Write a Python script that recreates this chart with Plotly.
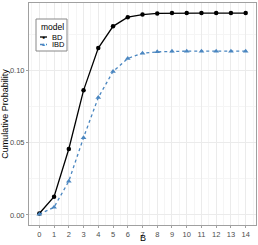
import plotly.graph_objects as go

B = list(range(15))
bd = [0.001, 0.0126, 0.0457, 0.0864, 0.1157, 0.1308, 0.1372, 0.139, 0.1398, 0.140, 0.140, 0.140, 0.140, 0.140, 0.140]
ibd = [0.0005, 0.0053, 0.0234, 0.0536, 0.0814, 0.0995, 0.1085, 0.1122, 0.1131, 0.1136, 0.1136, 0.1136, 0.1136, 0.1136, 0.1136]
x_ticks = list(range(15))
y_ticks = [0.0, 0.05, 0.10]
y_labels = ["0.00", "0.05", "0.10"]
series_names = ["BD", "IBD"]
colors = ["black", "#4a86c0"]

W, H = 258, 245
L, R, T, Bm = 29, 2, 3, 20
pw, ph = W - L - R, H - T - Bm

def px(x):
    return (x - L) / pw

def py(y):
    return (H - Bm - y) / ph

fig = go.Figure()
fig.add_trace(go.Scatter(x=B, y=bd, name=series_names[0], mode="lines+markers",
                         line=dict(color=colors[0], width=1.3),
                         marker=dict(symbol="circle", size=4.5, color=colors[0])))
fig.add_trace(go.Scatter(x=B, y=ibd, name=series_names[1], mode="lines+markers",
                         line=dict(color=colors[1], width=1.3, dash="dot"),
                         marker=dict(symbol="triangle-up", size=5, color=colors[1])))

axis_common = dict(showline=True, linecolor="#a0a0a0", linewidth=1, mirror=True,
                   ticks="outside", ticklen=2, tickcolor="#a0a0a0",
                   tickfont=dict(size=7.5, color="#4d4d4d", family="Liberation Sans"),
                   gridcolor="#ebebeb", gridwidth=0.8, zeroline=False, automargin=False)

fig.update_layout(
    width=W, height=H,
    margin=dict(l=L, r=R, t=T, b=Bm, autoexpand=False),
    plot_bgcolor="white", paper_bgcolor="white",
    font=dict(family="Liberation Sans", color="black"),
    xaxis=dict(range=[-0.7, 14.7], tickmode="array", tickvals=x_ticks,
               ticktext=[str(v) for v in x_ticks],
               minor=dict(showgrid=True, gridcolor="#f5f5f5", gridwidth=0.5,
                          tickvals=[i + 0.5 for i in range(-1, 15)], ticks=""),
               **axis_common),
    yaxis=dict(range=[-0.007, 0.147], tickmode="array", tickvals=y_ticks,
               ticktext=y_labels,
               title=dict(text="Cumulative Probability", font=dict(size=9), standoff=3),
               minor=dict(showgrid=True, gridcolor="#f5f5f5", gridwidth=0.5,
                          tickvals=[0.025, 0.075, 0.125], ticks=""),
               **axis_common),
    showlegend=False,
)

# x axis title
fig.add_annotation(xref="paper", yref="paper", x=0.5, y=py(238.5), text="B",
                   showarrow=False, xanchor="center", yanchor="middle",
                   font=dict(size=9, color="black"))

# manual compact legend (ggplot-like)
fig.add_shape(type="rect", xref="paper", yref="paper",
              x0=px(36), x1=px(67), y0=py(51), y1=py(19),
              line=dict(color="#888888", width=1), fillcolor="white", layer="above")
fig.add_annotation(xref="paper", yref="paper", x=px(39), y=py(27), text="model",
                   showarrow=False, xanchor="left", yanchor="middle",
                   font=dict(size=8.5, color="black"))
legend_y = [37, 44.5]
for name, col, ly, sym, dash in zip(series_names, colors, legend_y, ["●", "▲"], ["solid", "dot"]):
    fig.add_shape(type="line", xref="paper", yref="paper",
                  x0=px(40), x1=px(47), y0=py(ly), y1=py(ly),
                  line=dict(color=col, width=1.3, dash=dash), layer="above")
    fig.add_annotation(xref="paper", yref="paper", x=px(43.5), y=py(ly), text=sym,
                       showarrow=False, xanchor="center", yanchor="middle",
                       font=dict(size=5, color=col))
    fig.add_annotation(xref="paper", yref="paper", x=px(50), y=py(ly), text=name,
                       showarrow=False, xanchor="left", yanchor="middle",
                       font=dict(size=7.5, color="black"))

fig.write_html("out.html", config={"displayModeBar": False},
               post_script="document.body.style.margin='0';document.body.style.overflow='hidden';")
